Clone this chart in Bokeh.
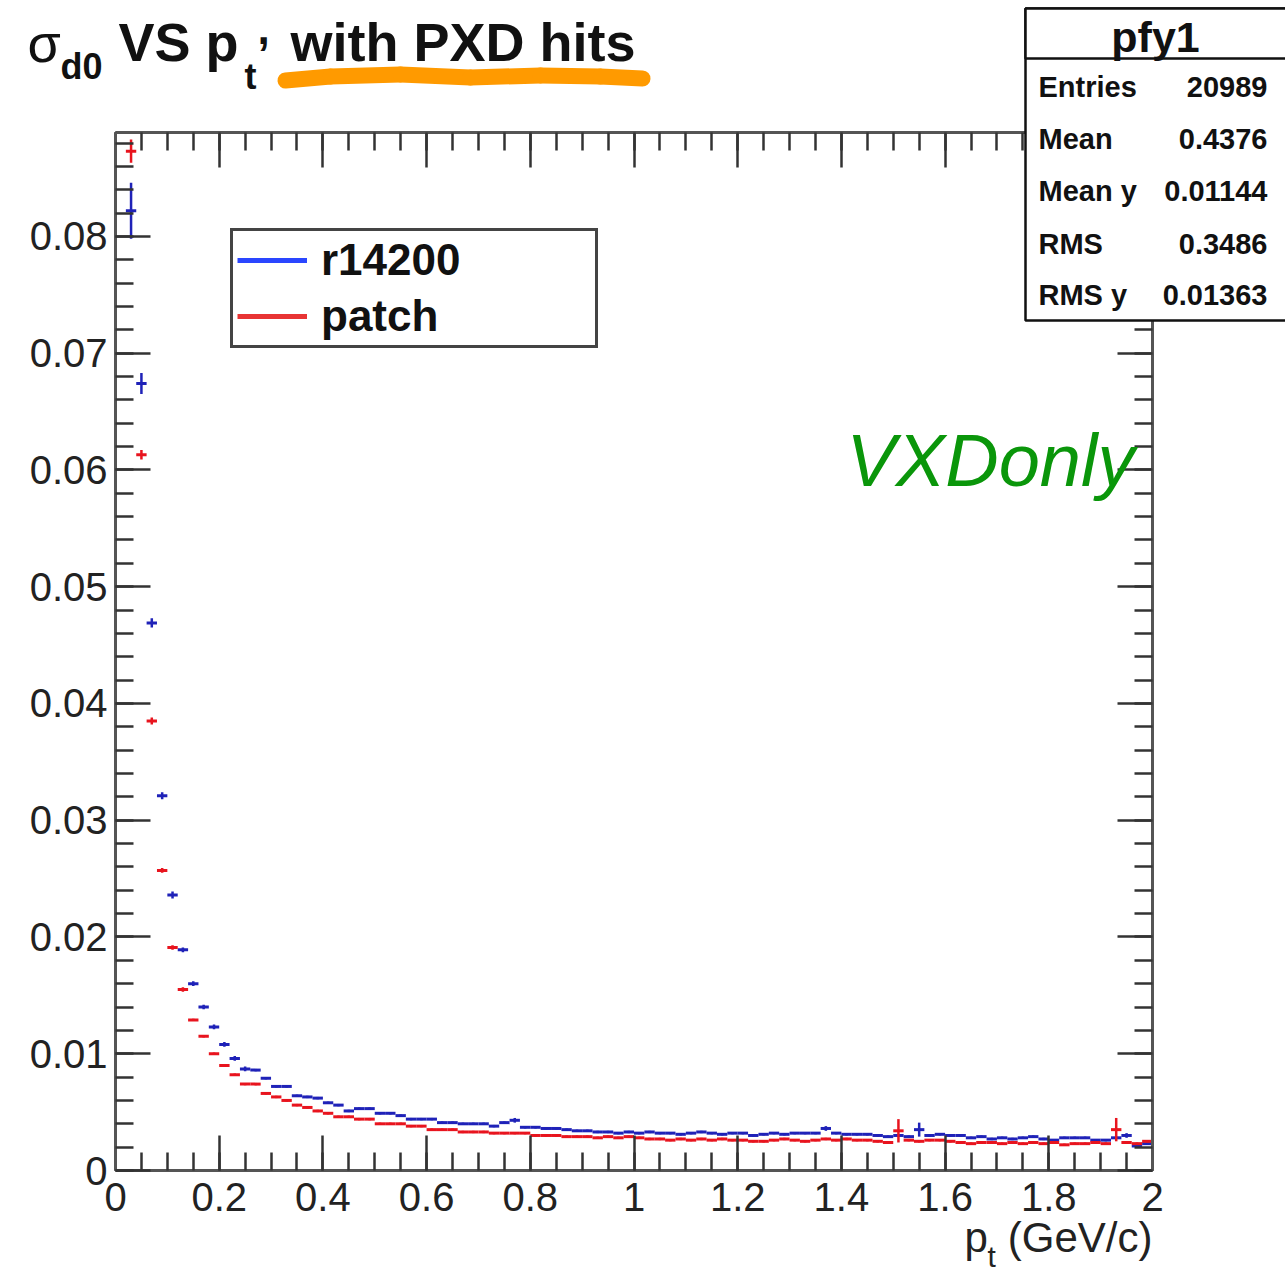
import numpy as np
from bokeh.plotting import figure
from bokeh.models import (Range1d, LinearAxis, FixedTicker,
                          CustomJSTickFormatter, Label, BoxAnnotation, Arrow, Legend,
                          LegendItem, ColumnDataSource)
from bokeh.embed import file_html
from bokeh.resources import INLINE

# ---------------- data ----------------
bin_width = 0.02
pt_centers = np.round(np.arange(0.03, 2.0, bin_width), 2)  # bin centres (GeV/c)

sigma_r14200 = [
    0.0822, 0.0674, 0.0469, 0.0321, 0.0236, 0.0189, 0.0160, 0.0140, 0.0123, 0.0108,
    0.0096, 0.0087, 0.0086, 0.0079, 0.0072, 0.0072, 0.0064, 0.0063, 0.0062, 0.0058,
    0.0056, 0.0051, 0.0053, 0.0053, 0.0049, 0.0049, 0.0047, 0.0044, 0.0044, 0.0044,
    0.0041, 0.0041, 0.0040, 0.0040, 0.0040, 0.0038, 0.0041, 0.0043, 0.0037, 0.0037,
    0.0036, 0.0036, 0.0035, 0.0034, 0.0034, 0.0033, 0.0033, 0.0032, 0.0033, 0.0032,
    0.0033, 0.0032, 0.0032, 0.0031, 0.0032, 0.0033, 0.0032, 0.0031, 0.0032, 0.0032,
    0.0030, 0.0031, 0.0032, 0.0031, 0.0032, 0.0032, 0.0032, 0.0036, 0.0032, 0.0031,
    0.0031, 0.0031, 0.0030, 0.0029, 0.0030, 0.0029, 0.0035, 0.0030, 0.0031, 0.0030,
    0.0030, 0.0028, 0.0029, 0.0027, 0.0028, 0.0027, 0.0028, 0.0029, 0.0027, 0.0026,
    0.0028, 0.0028, 0.0028, 0.0026, 0.0026, 0.0028, 0.0030, 0.0021, 0.0023,
]
err_r14200 = [
    0.0024, 0.0009, 0.0004, 0.0003, 0.0003, 0.0002, 0.0002, 0.0002, 0.0002, 0.0002,
    0.0002, 0.0002, 0.0001, 0.0001, 0.0001, 0.0001, 0.0001, 0.0001, 0.0001, 0.0001,
    0.0001, 0.0001, 0.0001, 0.0001, 0.0001, 0.0001, 0.0001, 0.0001, 0.0001, 0.0001,
    0.0001, 0.0001, 0.0001, 0.0001, 0.0001, 0.0001, 0.0001, 0.0002, 0.0001, 0.0001,
    0.0001, 0.0001, 0.0001, 0.0001, 0.0001, 0.0001, 0.0001, 0.0001, 0.0001, 0.0001,
    0.0001, 0.0001, 0.0001, 0.0001, 0.0001, 0.0001, 0.0001, 0.0001, 0.0001, 0.0001,
    0.0001, 0.0001, 0.0001, 0.0001, 0.0001, 0.0001, 0.0001, 0.0002, 0.0001, 0.0001,
    0.0001, 0.0001, 0.0001, 0.0001, 0.0001, 0.0001, 0.0006, 0.0001, 0.0001, 0.0001,
    0.0001, 0.0001, 0.0001, 0.0001, 0.0001, 0.0001, 0.0001, 0.0001, 0.0001, 0.0001,
    0.0001, 0.0001, 0.0001, 0.0001, 0.0001, 0.0001, 0.0002, 0.0001, 0.0001,
]
sigma_patch = [
    0.0873, 0.0613, 0.0385, 0.0257, 0.0191, 0.0155, 0.0129, 0.0115, 0.0100, 0.0090,
    0.0082, 0.0074, 0.0074, 0.0066, 0.0063, 0.0060, 0.0056, 0.0054, 0.0051, 0.0049,
    0.0046, 0.0046, 0.0044, 0.0044, 0.0040, 0.0040, 0.0040, 0.0038, 0.0038, 0.0035,
    0.0035, 0.0035, 0.0033, 0.0033, 0.0033, 0.0032, 0.0032, 0.0032, 0.0032, 0.0030,
    0.0030, 0.0030, 0.0029, 0.0029, 0.0029, 0.0028, 0.0029, 0.0028, 0.0029, 0.0028,
    0.0027, 0.0027, 0.0026, 0.0027, 0.0026, 0.0027, 0.0026, 0.0027, 0.0026, 0.0026,
    0.0025, 0.0025, 0.0026, 0.0027, 0.0026, 0.0025, 0.0026, 0.0027, 0.0026, 0.0027,
    0.0026, 0.0026, 0.0025, 0.0024, 0.0034, 0.0026, 0.0025, 0.0026, 0.0026, 0.0025,
    0.0024, 0.0023, 0.0024, 0.0024, 0.0023, 0.0024, 0.0023, 0.0024, 0.0023, 0.0024,
    0.0022, 0.0023, 0.0023, 0.0024, 0.0023, 0.0035, 0.0024, 0.0023, 0.0025,
]
err_patch = [
    0.0010, 0.0004, 0.0003, 0.0002, 0.0002, 0.0002, 0.0001, 0.0001, 0.0001, 0.0001,
    0.0001, 0.0001, 0.0001, 0.0001, 0.0001, 0.0001, 0.0001, 0.0001, 0.0001, 0.0001,
    0.0001, 0.0001, 0.0001, 0.0001, 0.0001, 0.0001, 0.0001, 0.0001, 0.0001, 0.0001,
    0.0001, 0.0001, 0.0001, 0.0001, 0.0001, 0.0001, 0.0001, 0.0001, 0.0001, 0.0001,
    0.0001, 0.0001, 0.0001, 0.0001, 0.0001, 0.0001, 0.0001, 0.0001, 0.0001, 0.0001,
    0.0001, 0.0001, 0.0001, 0.0001, 0.0001, 0.0001, 0.0001, 0.0001, 0.0001, 0.0001,
    0.0001, 0.0001, 0.0001, 0.0001, 0.0001, 0.0001, 0.0001, 0.0001, 0.0001, 0.0001,
    0.0001, 0.0001, 0.0001, 0.0001, 0.0010, 0.0001, 0.0001, 0.0001, 0.0001, 0.0001,
    0.0001, 0.0001, 0.0001, 0.0001, 0.0001, 0.0001, 0.0001, 0.0001, 0.0001, 0.0001,
    0.0001, 0.0001, 0.0001, 0.0001, 0.0001, 0.0010, 0.0001, 0.0001, 0.0001,
]

series_names = ["r14200", "patch"]
series_colors = ["#1f22b8", "#e8141e"]
legend_colors = ["#2a46ff", "#e83434"]

stat_labels = ["Entries", "Mean", "Mean y", "RMS", "RMS y"]
stat_values = ["20989", "0.4376", "0.01144", "0.3486", "0.01363"]
stat_title = "pfy1"

XMAX, YMAX = 2.0, 0.0889
x_major_ticks = np.round(np.arange(0, XMAX + 1e-9, 0.2), 2)
x_minor_ticks = np.round(np.arange(0, XMAX + 1e-9, 0.05), 2)
y_major_ticks = np.round(np.arange(0, 0.0801, 0.01), 3)
y_minor_ticks = np.round(np.arange(0, 0.0889, 0.002), 3)

# ---------------- layout ----------------
W, H = 1285, 1272
FL, FR, FT, FB = 115, 1152, 132, 1170   # ROOT frame in page pixels
FONT = "Liberation Sans"


def dx(px):
    return (px - FL) / (FR - FL) * XMAX


def dy(py):
    return (FB - py) / (FB - FT) * YMAX


p = figure(width=W, height=H, output_backend="svg", toolbar_location=None,
           x_range=Range1d(dx(0), dx(W)), y_range=Range1d(dy(H), dy(0)),
           x_axis_type=None, y_axis_type=None, min_border=0)
p.title_location = None
p.outline_line_color = None
p.background_fill_color = "white"
p.border_fill_color = "white"
p.xgrid.visible = False
p.ygrid.visible = False

fmt = CustomJSTickFormatter(code="return String(parseFloat(tick.toFixed(4)));")


def style_axis(ax, tick_len_major=35, tick_len_minor=18):
    ax.axis_line_color = "#555555"
    ax.axis_line_width = 3
    ax.major_tick_line_color = "#333333"
    ax.major_tick_line_width = 2.5
    ax.minor_tick_line_color = "#333333"
    ax.minor_tick_line_width = 2.5
    ax.major_tick_in = tick_len_major
    ax.major_tick_out = 0
    ax.minor_tick_in = tick_len_minor
    ax.minor_tick_out = 0
    ax.major_label_text_font = FONT
    ax.major_label_text_color = "#222222"
    ax.major_label_text_font_size = "40px"
    return ax


# labelled axes (bottom and left), drawn at the frame edges
xb = style_axis(LinearAxis(ticker=FixedTicker(ticks=list(x_major_ticks), minor_ticks=list(x_minor_ticks)),
                           formatter=fmt, fixed_location=0, bounds=(0, XMAX)))
xb.major_label_standoff = 12
p.add_layout(xb, "below")
yl = style_axis(LinearAxis(ticker=FixedTicker(ticks=list(y_major_ticks), minor_ticks=list(y_minor_ticks)),
                           formatter=fmt, fixed_location=0, bounds=(0, YMAX)))
yl.major_label_standoff = 8
p.add_layout(yl, "left")

# mirror ticks on top and right (no labels)
for ticks, length, place, loc, bnd in [
        (x_major_ticks, 35, "above", YMAX, (0, XMAX)),
        (x_minor_ticks, 18, "above", YMAX, (0, XMAX)),
        (y_major_ticks, 35, "right", XMAX, (0, YMAX)),
        (y_minor_ticks, 18, "right", XMAX, (0, YMAX))]:
    ax = style_axis(LinearAxis(ticker=FixedTicker(ticks=[], minor_ticks=list(ticks)),
                               fixed_location=loc, bounds=bnd), length, length)
    p.add_layout(ax, place)

# ---------------- data marks ----------------
legend_items = []
for name, col, lcol, sig, err in zip(series_names, series_colors, legend_colors,
                                     [sigma_r14200, sigma_patch], [err_r14200, err_patch]):
    sig = np.array(sig)
    err = np.array(err)
    src = ColumnDataSource(dict(
        xl=pt_centers - bin_width / 2, xr=pt_centers + bin_width / 2,
        xc=pt_centers, y=sig, ylo=sig - err, yhi=sig + err))
    p.segment(x0="xl", y0="y", x1="xr", y1="y", source=src,
              line_color=col, line_width=3)
    p.segment(x0="xc", y0="ylo", x1="xc", y1="yhi", source=src,
              line_color=col, line_width=2.5)
    # single-point line: draws nothing in the plot, only provides the legend swatch
    proxy = p.line(x=pt_centers[:1], y=sig[:1], line_color=lcol, line_width=5)
    legend_items.append(LegendItem(label=name, renderers=[proxy]))

legend = Legend(items=legend_items, location=(230, H - 348))
legend.label_text_font = FONT
legend.label_text_font_style = "bold"
legend.label_text_font_size = "44px"
legend.label_text_color = "#111111"
legend.glyph_width = 70
legend.glyph_height = 40
legend.label_standoff = 14
legend.label_width = 270
legend.padding = 4
legend.spacing = 6
legend.margin = 0
legend.border_line_color = "#444444"
legend.border_line_alpha = 1
legend.border_line_width = 3
legend.background_fill_color = "white"
legend.background_fill_alpha = 1
p.add_layout(legend, "center")

# ---------------- title ----------------
# (text, left px, centre px, size, style)
title_parts = [
    ("σ", 27, 42, "54px", "normal"),
    ("d0", 60, 66, "36px", "bold"),
    ("VS p", 118, 41, "54px", "bold"),
    ("t", 244, 76, "36px", "bold"),
    (",", 257, 28, "44px", "bold"),
    ("with PXD hits", 290, 41, "54px", "bold"),
]
# orange highlight under "with PXD hits"
hl_px = [285, 330, 400, 470, 540, 600, 642]
hl_py = [80, 76, 74, 77, 75, 76, 78]
for i in range(len(hl_px) - 1):
    p.add_layout(Arrow(start=None, end=None,
                       x_start=dx(hl_px[i]), y_start=dy(hl_py[i]),
                       x_end=dx(hl_px[i + 1]), y_end=dy(hl_py[i + 1]),
                       line_color="#ff9a00", line_width=16, line_cap="round"))
for txt, px, py, fs, st in title_parts:
    p.add_layout(Label(x=dx(px), y=dy(py), text=txt, text_font=FONT,
                       text_font_size=fs, text_font_style=st, text_color="#111111",
                       text_baseline="middle", text_align="left"))

# ---------------- stats box ----------------
p.add_layout(BoxAnnotation(left=dx(1025), right=dx(1300), top=dy(8), bottom=dy(320),
                           fill_color="white", fill_alpha=1, line_color="#111111",
                           line_alpha=1, line_width=2.5, level="overlay"))
p.add_layout(BoxAnnotation(left=dx(1025), right=dx(1300), top=dy(8), bottom=dy(58),
                           fill_color="white", fill_alpha=1, line_color="#111111",
                           line_alpha=1, line_width=2.5, level="overlay"))
p.add_layout(Label(x=dx(1155), y=dy(36), text=stat_title, text_font=FONT,
                   text_font_size="43px", text_font_style="bold", text_color="#111111",
                   text_align="center", text_baseline="middle", level="overlay"))
row_py = [86, 138, 190, 243, 294]
for lab, val, py in zip(stat_labels, stat_values, row_py):
    p.add_layout(Label(x=dx(1038), y=dy(py), text=lab, text_font=FONT,
                       text_font_size="29px", text_font_style="bold", text_color="#111111",
                       text_align="left", text_baseline="middle", level="overlay"))
    p.add_layout(Label(x=dx(1267), y=dy(py), text=val, text_font=FONT,
                       text_font_size="29px", text_font_style="bold", text_color="#111111",
                       text_align="right", text_baseline="middle", level="overlay"))

# ---------------- VXDonly ----------------
p.add_layout(Label(x=dx(846), y=dy(460), text="VXDonly", text_font=FONT,
                   text_font_size="74px", text_font_style="italic", text_color="#0a960a",
                   text_align="left", text_baseline="middle"))

# ---------------- x axis title ----------------
p.add_layout(Label(x=dx(1152), y=dy(1237), text="(GeV/c)", text_font=FONT,
                   text_font_size="42px", text_color="#222222",
                   text_align="right", text_baseline="middle"))
p.add_layout(Label(x=dx(964), y=dy(1237), text="p", text_font=FONT,
                   text_font_size="42px", text_color="#222222",
                   text_align="left", text_baseline="middle"))
p.add_layout(Label(x=dx(987), y=dy(1256), text="t", text_font=FONT,
                   text_font_size="30px", text_color="#222222",
                   text_align="left", text_baseline="middle"))

open("out.html", "w").write(file_html(p, INLINE))
